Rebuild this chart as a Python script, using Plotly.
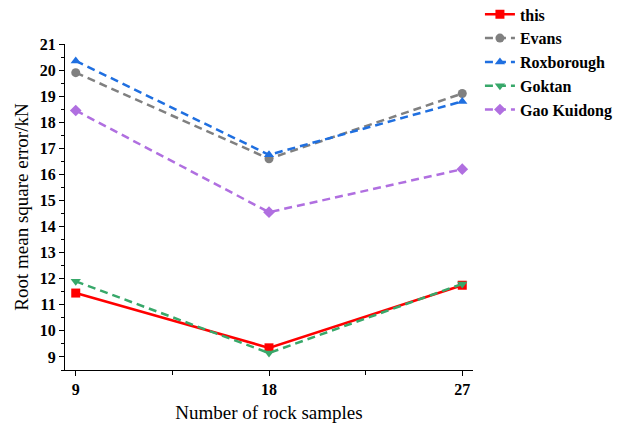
import plotly.graph_objects as go

samples = [9, 18, 27]
this_vals = [11.45, 9.35, 11.75]
evans_vals = [19.9, 16.6, 19.1]
roxborough_vals = [20.35, 16.75, 18.8]
goktan_vals = [11.9, 9.15, 11.8]
gao_vals = [18.45, 14.55, 16.2]

series = [
    ("this", this_vals, "#FF0000", "solid", "square"),
    ("Evans", evans_vals, "#808080", "8px,5px", "circle"),
    ("Roxborough", roxborough_vals, "#1F6FE0", "8px,5px", "triangle-up"),
    ("Goktan", goktan_vals, "#38A86A", "8px,5px", "triangle-down"),
    ("Gao Kuidong", gao_vals, "#B06FE0", "8px,5px", "diamond"),
]

fig = go.Figure()
for name, vals, color, dash, sym in series:
    fig.add_trace(go.Scatter(
        x=samples, y=vals, name=name, mode="lines+markers",
        line=dict(color=color, width=2.5, dash=dash),
        marker=dict(symbol=sym, size=9, color=color),
    ))

serif = "Liberation Serif, Times New Roman, serif"
fig.update_layout(
    width=620, height=423,
    margin=dict(l=65, r=147, t=44, b=53, autoexpand=False),
    paper_bgcolor="white", plot_bgcolor="white",
    font=dict(family=serif, color="black"),
    showlegend=True,
    legend=dict(x=1.017, y=1.143, xanchor="left", yanchor="top",
                font=dict(family=serif, size=16, color="black", weight="bold"),
                tracegroupgap=0, itemwidth=30, bgcolor="rgba(0,0,0,0)"),
    xaxis=dict(
        range=[8.5, 27.5], tickvals=samples, ticktext=[str(s) for s in samples],
        showgrid=False, zeroline=False, showline=True, linecolor="black", linewidth=1.2,
        ticks="outside", ticklen=5, tickwidth=1.2, tickcolor="black",
        minor=dict(tickvals=[13.5, 22.5], ticks="outside", ticklen=4, tickcolor="black", tickwidth=1.2),
        tickfont=dict(family=serif, size=16, color="black", weight="bold"),
        ticklabelstandoff=0,
        title=dict(text="Number of rock samples", font=dict(family=serif, size=19, color="black"), standoff=13),
    ),
    yaxis=dict(
        range=[8.5, 21], dtick=1, tick0=9,
        showgrid=False, zeroline=False, showline=True, linecolor="black", linewidth=1.2,
        ticks="outside", ticklen=5, tickwidth=1.2, tickcolor="black",
        minor=dict(dtick=0.5, ticks="outside", ticklen=3, tickcolor="black", tickwidth=1.2),
        tickfont=dict(family=serif, size=16, color="black", weight="bold"),
        title=dict(text="Root mean square error/kN", font=dict(family=serif, size=19, color="black"), standoff=6),
    ),
)
fig.write_html("out.html")
